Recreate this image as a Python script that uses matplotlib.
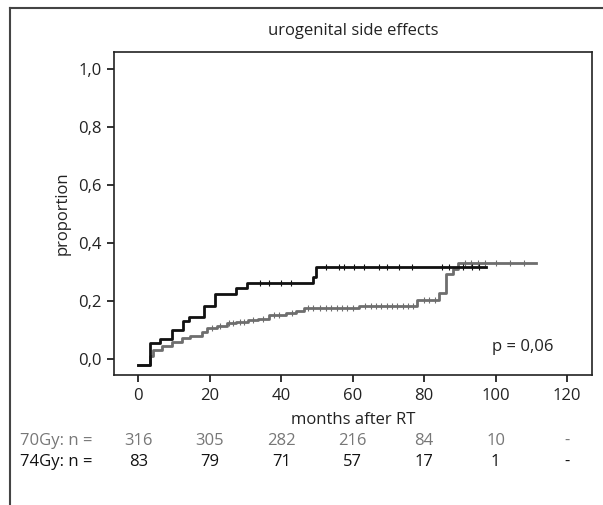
import matplotlib
matplotlib.use("Agg")
import matplotlib.pyplot as plt

plt.rcParams['font.family'] = ['Open Sans', 'DejaVu Sans']

# step curves (months, proportion)
t_74 = [0, 3.3, 6.0, 9.3, 12.4, 14.2, 18.4, 21.4, 27.4, 30.5, 48.8, 49.8, 97.2]
p_74 = [-0.02, 0.054, 0.069, 0.10, 0.132, 0.146, 0.183, 0.223, 0.244, 0.264, 0.284, 0.319, 0.319]

t_70 = [0, 3.3, 4.2, 6.5, 9.3, 12.1, 14.4, 17.7, 19.1, 21.9, 24.7, 27.4, 30.7, 33.5,
        36.7, 41.4, 44.2, 46.5, 61.8, 78.1, 84.2, 86.0, 88.1, 89.5, 111.3]
p_70 = [-0.02, 0.01, 0.033, 0.045, 0.06, 0.071, 0.079, 0.094, 0.106, 0.114, 0.123, 0.127,
        0.135, 0.14, 0.152, 0.158, 0.166, 0.175, 0.183, 0.204, 0.227, 0.293, 0.31, 0.33, 0.33]

# censoring ticks
cens_74 = [34.0, 36.7, 40.0, 42.8, 52.6, 56.3, 57.6, 60.4, 63.2, 67.4, 69.6, 73.0, 76.6,
           85.0, 87.0, 91.0, 93.5, 95.5]
cens_70 = [20.5, 23.0, 25.5, 26.5, 28.5, 29.5, 32.0, 35.0, 38.0, 39.5, 43.0, 47.5, 49.0,
           51.0, 52.5, 54.0, 55.5, 57.0, 58.5, 60.0, 63.5, 65.0, 66.5, 68.0, 69.5, 71.0,
           72.5, 74.0, 75.5, 77.0, 80.0, 81.5, 83.0, 91.5, 93.0, 95.0, 97.0, 100.0, 104.0, 108.0]

xticks = [0, 20, 40, 60, 80, 100, 120]
yticks = [0.0, 0.2, 0.4, 0.6, 0.8, 1.0]
ytick_labels = ['0,0', '0,2', '0,4', '0,6', '0,8', '1,0']
n_70 = ['316', '305', '282', '216', '84', '10', '-']
n_74 = ['83', '79', '71', '57', '17', '1', '-']

c74 = '#111111'
c70 = '#6e6e6e'


def value_at(ts, ps, x):
    v = ps[0]
    for t, p in zip(ts, ps):
        if t <= x:
            v = p
    return v


fig = plt.figure(figsize=(6.03, 5.05), dpi=100)

# outer frame: background axes whose left/top spines are the frame
bg = fig.add_axes([10 / 603, -0.1, 1.2, 1.1 - 8 / 505], zorder=-1)
bg.set_xticks([])
bg.set_yticks([])
bg.patch.set_alpha(0)
for side in ['right', 'bottom']:
    bg.spines[side].set_visible(False)
for side in ['left', 'top']:
    bg.spines[side].set_linewidth(1.5)
    bg.spines[side].set_color('#444444')

ax = fig.add_axes([114 / 603, 1 - 375 / 505, (592 - 114) / 603, (375 - 52) / 505])

ax.step(t_70, p_70, where='post', color=c70, lw=2.0, zorder=2)
ax.step(t_74, p_74, where='post', color=c74, lw=2.0, zorder=3)
ax.plot(cens_70, [value_at(t_70, p_70, c) for c in cens_70], ls='none', marker='|',
        ms=4, mew=0.8, color=c70, zorder=2)
ax.plot(cens_74, [value_at(t_74, p_74, c) for c in cens_74], ls='none', marker='|',
        ms=4, mew=0.8, color=c74, zorder=3)

ax.set_xlim(-6.8, 127)
ax.set_ylim(-0.055, 1.06)
ax.set_xticks(xticks)
ax.set_yticks(yticks)
ax.set_yticklabels(ytick_labels)
ax.tick_params(direction='out', length=5, width=1.3, labelsize=12, colors='#222222', pad=4)
for s in ax.spines.values():
    s.set_linewidth(1.2)
    s.set_color('#222222')

ax.set_ylabel('proportion', fontsize=12, color='#222222', labelpad=5)
ax.set_xlabel('months after RT', fontsize=12, color='#222222', labelpad=6)
ax.set_title('urogenital side effects', fontsize=12, color='#222222', pad=12)
ax.text(99, 0.042, 'p = 0,06', fontsize=12, color='#222222', ha='left', va='center')

# number at risk rows
row70_y = 1 - 441 / 505
row74_y = 1 - 462 / 505
fig.text(20 / 603, row70_y, '70Gy: n =', fontsize=12, color='#777777', va='center')
fig.text(20 / 603, row74_y, '74Gy: n =', fontsize=12, color='#111111', va='center')
for x, a, b in zip(xticks, n_70, n_74):
    xf = fig.transFigure.inverted().transform(ax.transData.transform((x, 0)))[0]
    fig.text(xf, row70_y, a, fontsize=12, color='#777777', ha='center', va='center')
    fig.text(xf, row74_y, b, fontsize=12, color='#111111', ha='center', va='center')

fig.savefig('out.png', dpi=100)
